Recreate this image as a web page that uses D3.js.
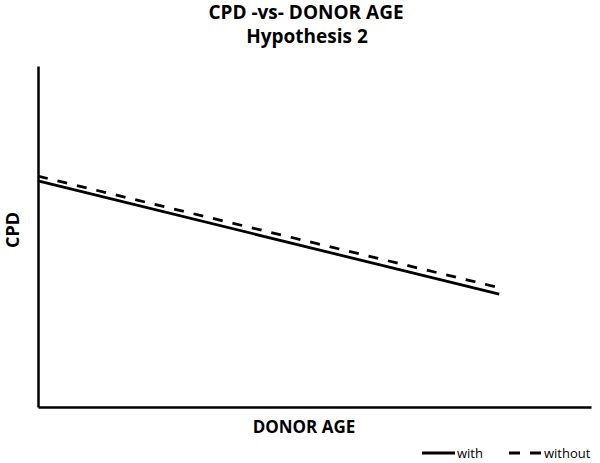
<!DOCTYPE html>
<html>
<head>
<meta charset="utf-8">
<script src="https://cdn.jsdelivr.net/npm/d3@7"></script>
<style>
  body { margin: 0; background: #fff; }
  text { font-family: "Open Sans", "DejaVu Sans", sans-serif; }
</style>
</head>
<body>
<svg id="chart" width="600" height="463"></svg>
<script>
// data (arbitrary units, no ticks shown)
const seriesNames = ["with", "without"];
const ageValues = [0, 83.4];
const withValues = [66.3, 33.1];
const withoutValues = [67.7, 35.0];

const width = 600;
const height = 463;
const margin = { left: 38, right: 9, top: 66, bottom: 56 };

const svg = d3.select("#chart");

const xScale = d3.scaleLinear()
  .domain([0, 100])
  .range([margin.left, width - margin.right]);

const yScale = d3.scaleLinear()
  .domain([0, 100])
  .range([height - margin.bottom, margin.top]);

// titles
svg.append("text")
  .attr("x", 306).attr("y", 19)
  .attr("text-anchor", "middle")
  .attr("font-size", 19).attr("font-weight", "bold")
  .text("CPD -vs- DONOR AGE");

svg.append("text")
  .attr("x", 307).attr("y", 43)
  .attr("text-anchor", "middle")
  .attr("font-size", 19).attr("font-weight", "bold")
  .text("Hypothesis 2");

// axes (no ticks)
const xAxis = d3.axisBottom(xScale).tickValues([]).tickSizeOuter(0);
const yAxis = d3.axisLeft(yScale).tickValues([]).tickSizeOuter(0);

svg.append("g")
  .attr("transform", `translate(0, ${height - margin.bottom})`)
  .call(xAxis)
  .select(".domain").attr("stroke", "#000").attr("stroke-width", 2.5);

svg.append("g")
  .attr("transform", `translate(${margin.left}, 0)`)
  .call(yAxis)
  .select(".domain").attr("stroke", "#000").attr("stroke-width", 2.5);

svg.append("text")
  .attr("x", 304).attr("y", 433)
  .attr("text-anchor", "middle")
  .attr("font-size", 17).attr("font-weight", "bold")
  .text("DONOR AGE");

svg.append("text")
  .attr("transform", "translate(19, 230) rotate(-90)")
  .attr("text-anchor", "middle")
  .attr("font-size", 18).attr("font-weight", "bold")
  .text("CPD");

// lines
const line = d3.line()
  .x(d => xScale(d[0]))
  .y(d => yScale(d[1]));

const series = [
  { name: seriesNames[0], values: withValues, dash: null },
  { name: seriesNames[1], values: withoutValues, dash: "10,10" }
];

svg.selectAll(".series")
  .data(series)
  .enter()
  .append("path")
  .attr("class", "series")
  .attr("fill", "none")
  .attr("stroke", "#000")
  .attr("stroke-width", 2.8)
  .attr("stroke-dasharray", d => d.dash)
  .attr("d", d => line(ageValues.map((a, i) => [a, d.values[i]])));

// legend
const legend = svg.append("g").attr("transform", "translate(422, 453)");
const legendItems = [
  { name: seriesNames[0], dash: null, x: 0, lw: 33 },
  { name: seriesNames[1], dash: "11,10", x: 87, lw: 33 }
];
legend.selectAll("line")
  .data(legendItems)
  .enter()
  .append("line")
  .attr("x1", d => d.x)
  .attr("x2", d => d.x + d.lw)
  .attr("y1", 0).attr("y2", 0)
  .attr("stroke", "#000")
  .attr("stroke-width", 2.8)
  .attr("stroke-dasharray", d => d.dash);
legend.selectAll("text")
  .data(legendItems)
  .enter()
  .append("text")
  .attr("x", d => d.x + d.lw + 2)
  .attr("y", 5)
  .attr("font-size", 13)
  .text(d => d.name);
</script>
</body>
</html>
